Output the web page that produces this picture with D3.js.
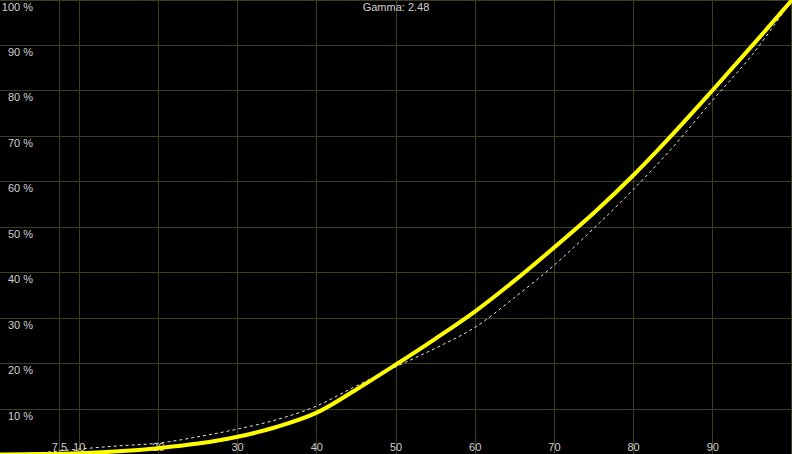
<!DOCTYPE html>
<html>
<head>
<meta charset="utf-8">
<script src="https://cdn.jsdelivr.net/npm/d3@7"></script>
<style>
  html, body { margin: 0; padding: 0; background: #000; }
  svg { display: block; }
</style>
</head>
<body>
<svg id="gammaChart" width="792" height="454"></svg>
<script>
  // input level, %
  const levels = [0, 5, 10, 15, 20, 25, 30, 35, 40, 45, 50, 55, 60, 65, 70, 75, 80, 85, 90, 95, 100];
  // measured luminance, %
  const measured = [0, 0.1, 0.3, 0.7, 1.4, 2.4, 3.9, 6.1, 9.2, 14.3, 19.8, 25.5, 31.5, 38.3, 45.6, 53.2, 61.5, 70.6, 80.2, 90.0, 100];
  // target curve (dashed), %
  const target = [0, 0.4, 1.2, 1.9, 2.5, 3.9, 5.6, 7.7, 10.7, 15.1, 19.3, 23.4, 28.0, 34.6, 41.7, 49.8, 58.4, 67.7, 78.0, 88.0, 100];

  const xTicks = [7.5, 10, 20, 30, 40, 50, 60, 70, 80, 90];
  const xGrid = [7.5, 10, 20, 30, 40, 50, 60, 70, 80, 90, 100];
  const yTicks = [10, 20, 30, 40, 50, 60, 70, 80, 90, 100];
  const title = "Gamma: 2.48";

  const svg = d3.select("#gammaChart");
  const width = 792, height = 454;

  const x = d3.scaleLinear().domain([0, 100]).range([0, width]);
  const y = d3.scaleLinear().domain([0, 100]).range([454.5, 0]);

  const gridColor = "#3f3f1e";
  const textColor = "#d0d0d0";
  const font = "'Liberation Sans', Arial, sans-serif";

  // crisp 1px lines
  const px = v => Math.min(Math.floor(v), width - 1) + 0.5;
  const py = v => Math.max(Math.floor(v), 0) + 0.5;

  svg.append("rect")
    .attr("width", width).attr("height", height)
    .attr("fill", "#000");

  // vertical grid
  svg.selectAll(".vgrid")
    .data(xGrid)
    .enter().append("line")
    .attr("x1", d => px(x(d))).attr("x2", d => px(x(d)))
    .attr("y1", 0).attr("y2", height)
    .attr("stroke", gridColor)
    .attr("stroke-width", 1);

  // horizontal grid
  svg.selectAll(".hgrid")
    .data(yTicks)
    .enter().append("line")
    .attr("x1", 0).attr("x2", width)
    .attr("y1", d => py(y(d))).attr("y2", d => py(y(d)))
    .attr("stroke", gridColor)
    .attr("stroke-width", 1);

  // y labels
  svg.selectAll(".ylab")
    .data(yTicks)
    .enter().append("text")
    .attr("x", 33)
    .attr("y", d => Math.floor(y(d)) + 11)
    .attr("text-anchor", "end")
    .attr("font-family", font)
    .attr("font-size", "11px")
    .attr("fill", textColor)
    .text(d => d + " %");

  // x labels
  svg.selectAll(".xlab")
    .data(xTicks)
    .enter().append("text")
    .attr("x", d => x(d))
    .attr("y", 451)
    .attr("text-anchor", "middle")
    .attr("font-family", font)
    .attr("font-size", "11px")
    .attr("fill", textColor)
    .text(d => d);

  // title
  svg.append("text")
    .attr("x", x(50))
    .attr("y", 11)
    .attr("text-anchor", "middle")
    .attr("font-family", font)
    .attr("font-size", "11px")
    .attr("fill", textColor)
    .text(title);

  const line = d3.line()
    .x(d => x(d[0]))
    .y(d => y(d[1]))
    .curve(d3.curveCatmullRom.alpha(0.5));

  // target dashed curve
  svg.append("path")
    .datum(levels.map((l, i) => [l, target[i]]))
    .attr("fill", "none")
    .attr("stroke", "#e6e6e6")
    .attr("stroke-width", 1)
    .attr("stroke-dasharray", "3,3")
    .attr("d", line);

  // measured curve
  svg.append("path")
    .datum(levels.map((l, i) => [l, measured[i]]))
    .attr("fill", "none")
    .attr("stroke", "#ffff00")
    .attr("stroke-width", 4)
    .attr("stroke-linecap", "round")
    .attr("d", line);
</script>
</body>
</html>
